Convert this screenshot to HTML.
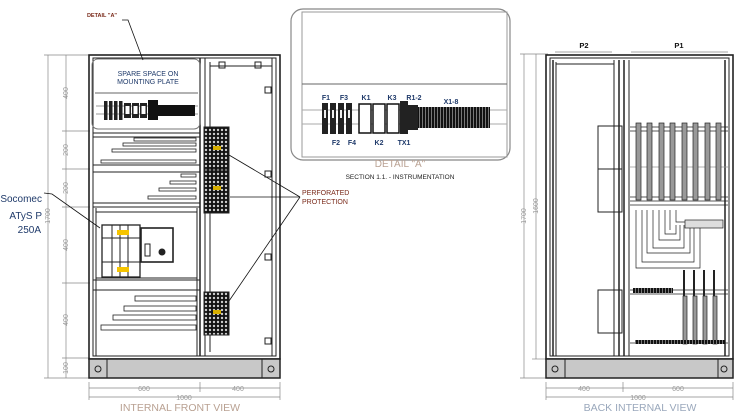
<!DOCTYPE html>
<html><head><meta charset="utf-8"><style>
html,body{margin:0;padding:0;background:#fff;width:743px;height:420px;overflow:hidden}
svg{display:block}
text{font-family:"Liberation Sans",sans-serif}
</style></head><body>
<svg width="743" height="420" viewBox="0 0 743 420" xmlns="http://www.w3.org/2000/svg">
<defs>
<pattern id="perf" width="4" height="4" patternUnits="userSpaceOnUse">
<rect width="4" height="4" fill="#111"/><circle cx="2" cy="2" r="1.2" fill="#ccc"/>
</pattern>
<pattern id="term" width="3" height="10" patternUnits="userSpaceOnUse">
<rect width="3" height="10" fill="#111"/><rect x="2" width="1" height="10" fill="#777"/>
</pattern>
</defs>

<!-- ============ FRONT VIEW ============ -->
<g fill="none" stroke="#222" stroke-width="1">
<g stroke="#888" stroke-width="0.7">
<line x1="48" y1="55" x2="48" y2="378"/><line x1="44" y1="55" x2="90" y2="55"/><line x1="44" y1="378" x2="90" y2="378"/>
<line x1="66" y1="55" x2="66" y2="378"/>
<line x1="62" y1="131" x2="90" y2="131"/><line x1="62" y1="169" x2="90" y2="169"/><line x1="62" y1="207" x2="90" y2="207"/><line x1="62" y1="283" x2="90" y2="283"/><line x1="62" y1="358" x2="90" y2="358"/>
<line x1="89" y1="382" x2="89" y2="400"/><line x1="200" y1="382" x2="200" y2="392"/><line x1="280" y1="382" x2="280" y2="400"/>
<line x1="89" y1="388" x2="280" y2="388"/><line x1="89" y1="397" x2="280" y2="397"/>
</g>
<rect x="89" y="55" width="191" height="304" stroke-width="1.6"/>
<rect x="93" y="58" width="183" height="298"/>
<line x1="200" y1="58" x2="200" y2="356" stroke-width="1.5"/>
<line x1="205" y1="58" x2="205" y2="356"/>
<line x1="210" y1="62" x2="210" y2="352"/>
<line x1="272" y1="58" x2="272" y2="356"/>
<rect x="89" y="359" width="191" height="19" fill="#c8c8c8" stroke-width="1.5"/>
<line x1="107" y1="359" x2="107" y2="378"/><line x1="262" y1="359" x2="262" y2="378"/>
<circle cx="98" cy="369" r="3"/><circle cx="271" cy="369" r="3"/>
<rect x="92" y="59" width="108" height="70" rx="6" stroke="#777"/>
<line x1="95" y1="93" x2="198" y2="93" stroke="#666"/>
<line x1="96" y1="106" x2="198" y2="106" stroke="#999"/><line x1="96" y1="114" x2="198" y2="114" stroke="#999"/>
</g>
<g stroke="none">
<rect x="104" y="101" width="3.5" height="19" fill="#222"/><rect x="109" y="101" width="3.5" height="19" fill="#222"/><rect x="114" y="101" width="3.5" height="19" fill="#222"/><rect x="119" y="101" width="3.5" height="19" fill="#222"/>
<rect x="124" y="103" width="7" height="15" fill="#222"/><rect x="125.5" y="106" width="4" height="8" fill="#fff"/>
<rect x="132" y="103" width="7" height="15" fill="#222"/><rect x="133.5" y="106" width="4" height="8" fill="#fff"/>
<rect x="140" y="103" width="7" height="15" fill="#222"/><rect x="141.5" y="106" width="4" height="8" fill="#fff"/>
<rect x="148" y="100" width="10" height="20" fill="#111"/><rect x="158" y="105" width="37" height="11" fill="#111"/>
</g>
<g fill="none" stroke="#222" stroke-width="1">
<line x1="93" y1="133" x2="200" y2="133"/><line x1="93" y1="137" x2="200" y2="137"/>
<line x1="93" y1="165" x2="200" y2="165"/><line x1="93" y1="172" x2="200" y2="172"/>
<line x1="93" y1="203" x2="200" y2="203"/><line x1="93" y1="207" x2="200" y2="207"/>
<line x1="93" y1="280" x2="200" y2="280"/><line x1="93" y1="290" x2="200" y2="290"/>
<line x1="96" y1="208" x2="96" y2="356"/><line x1="197" y1="208" x2="197" y2="356"/>
<rect x="96" y="212" width="101" height="66"/>
<g stroke-width="0.8">
<rect x="134" y="138" width="62" height="3"/><rect x="123" y="143" width="73" height="3"/><rect x="112" y="149" width="84" height="3"/><rect x="101" y="160" width="95" height="3"/>
<rect x="181" y="174" width="15" height="3"/><rect x="170" y="181" width="26" height="3"/><rect x="159" y="188" width="37" height="3"/><rect x="148" y="196" width="48" height="3"/>
<rect x="135" y="296" width="61" height="5"/><rect x="124" y="306" width="72" height="5"/><rect x="113" y="315" width="83" height="5"/><rect x="101" y="325" width="95" height="5"/>
</g>
<rect x="102" y="225" width="38" height="52" stroke-width="1.3"/><line x1="102" y1="238" x2="140" y2="238"/><line x1="102" y1="262" x2="140" y2="262"/>
<line x1="112" y1="225" x2="112" y2="277"/><line x1="120" y1="225" x2="120" y2="277"/><line x1="128" y1="225" x2="128" y2="277"/>
<rect x="117" y="230" width="12" height="5" fill="#f5c400" stroke="none"/><rect x="117" y="267" width="12" height="5" fill="#f5c400" stroke="none"/>
<rect x="141" y="228" width="32" height="34" stroke-width="1.6"/><rect x="145" y="244" width="5" height="12"/><circle cx="162" cy="252" r="3" fill="#222"/>
<rect x="204" y="127" width="25" height="43" fill="url(#perf)"/><rect x="204" y="170" width="25" height="43" fill="url(#perf)"/><rect x="204" y="292" width="25" height="43" fill="url(#perf)"/>
<rect x="213" y="146" width="8" height="4" fill="#d8b000" stroke="none"/><rect x="213" y="186" width="8" height="4" fill="#d8b000" stroke="none"/><rect x="213" y="310" width="8" height="4" fill="#d8b000" stroke="none"/>
<rect x="265" y="87" width="6" height="6" fill="#fff"/><rect x="265" y="171" width="6" height="6" fill="#fff"/><rect x="265" y="254" width="6" height="6" fill="#fff"/><rect x="265" y="338" width="6" height="6" fill="#fff"/>
<rect x="219" y="62" width="6" height="6" fill="#fff"/><rect x="255" y="62" width="6" height="6" fill="#fff"/>
<line x1="210" y1="66" x2="272" y2="66"/>
<g stroke="#111" stroke-width="0.8">
<polyline points="122,20 128,20 143,60"/>
<polyline points="44,193 52,194 100,228"/>
<line x1="300" y1="197" x2="229" y2="155"/><line x1="300" y1="197" x2="230" y2="197"/><line x1="300" y1="197" x2="229" y2="301"/>
</g>
</g>
<g font-size="7" fill="#999" text-anchor="middle">
<text transform="translate(68,93) rotate(-90)">400</text>
<text transform="translate(68,150) rotate(-90)">200</text>
<text transform="translate(68,188) rotate(-90)">200</text>
<text transform="translate(68,245) rotate(-90)">400</text>
<text transform="translate(68,320) rotate(-90)">400</text>
<text transform="translate(68,368) rotate(-90)">100</text>
<text transform="translate(50,216) rotate(-90)">1700</text>
<text x="144" y="391">600</text><text x="238" y="391">400</text><text x="184" y="400">1000</text>
</g>
<text x="180" y="411" font-size="10.5" fill="#b9a192" text-anchor="middle">INTERNAL FRONT VIEW</text>
<text x="102" y="17" font-size="5.5" fill="#7a2a1a" text-anchor="middle" font-weight="bold">DETAIL "A"</text>
<text x="148" y="76" font-size="7" fill="#1f3a6a" text-anchor="middle">SPARE SPACE  ON</text>
<text x="148" y="84" font-size="7" fill="#1f3a6a" text-anchor="middle">MOUNTING PLATE</text>
<text x="42" y="202" font-size="10" fill="#1f3a6a" text-anchor="end">Socomec</text>
<text x="42" y="219" font-size="10" fill="#1f3a6a" text-anchor="end">ATyS P</text>
<text x="41" y="233" font-size="10" fill="#1f3a6a" text-anchor="end">250A</text>
<text x="302" y="195" font-size="7" fill="#7a2a1a">PERFORATED</text>
<text x="302" y="204" font-size="7" fill="#7a2a1a">PROTECTION</text>

<!-- ============ DETAIL A ============ -->
<g fill="none" stroke="#555">
<rect x="291" y="9" width="219" height="151" rx="12" stroke="#888" stroke-width="1.2"/>
<rect x="302" y="12" width="205" height="145" stroke="#999"/>
<line x1="302" y1="84" x2="507" y2="84" stroke="#666"/>
<line x1="302" y1="110" x2="507" y2="110" stroke="#aaa"/><line x1="302" y1="124" x2="507" y2="124" stroke="#aaa"/>
</g>
<g fill="#222">
<rect x="322" y="103" width="6" height="31"/><rect x="330" y="103" width="6" height="31"/><rect x="338" y="103" width="6" height="31"/><rect x="346" y="103" width="6" height="31"/>
<rect x="324" y="110" width="2" height="8" fill="#eee"/><rect x="332" y="110" width="2" height="8" fill="#eee"/><rect x="340" y="110" width="2" height="8" fill="#eee"/><rect x="348" y="110" width="2" height="8" fill="#eee"/>
<rect x="359" y="104" width="12" height="29" fill="#fff" stroke="#111" stroke-width="1.5"/>
<rect x="373" y="104" width="12" height="29" fill="#fff" stroke="#111" stroke-width="1.5"/>
<rect x="387" y="104" width="12" height="29" fill="#fff" stroke="#111" stroke-width="1.5"/>
<rect x="400" y="101" width="8" height="33"/><rect x="408" y="105" width="10" height="25"/>
<rect x="418" y="107" width="72" height="21" fill="url(#term)"/>
</g>
<g font-size="7" fill="#1f3a6a" font-weight="bold" text-anchor="middle">
<text x="326" y="100">F1</text><text x="344" y="100">F3</text><text x="366" y="100">K1</text><text x="392" y="100">K3</text><text x="414" y="100">R1-2</text><text x="451" y="104">X1-8</text>
<text x="336" y="145">F2</text><text x="352" y="145">F4</text><text x="379" y="145">K2</text><text x="404" y="145">TX1</text>
</g>
<text x="400" y="167" font-size="10" fill="#b9a192" text-anchor="middle">DETAIL "A"</text>
<text x="400" y="179" font-size="6.5" fill="#222" text-anchor="middle">SECTION 1.1. - INSTRUMENTATION</text>

<!-- ============ BACK VIEW ============ -->
<g fill="none" stroke="#222" stroke-width="1">
<g stroke="#888" stroke-width="0.7">
<line x1="524" y1="54" x2="524" y2="378"/><line x1="520" y1="54" x2="548" y2="54"/><line x1="520" y1="378" x2="548" y2="378"/>
<line x1="536" y1="54" x2="536" y2="359"/><line x1="532" y1="359" x2="548" y2="359"/>
<line x1="555" y1="52" x2="612" y2="52"/><line x1="631" y1="52" x2="728" y2="52"/>
<line x1="546" y1="382" x2="546" y2="400"/><line x1="623" y1="382" x2="623" y2="392"/><line x1="733" y1="382" x2="733" y2="400"/>
<line x1="546" y1="388" x2="733" y2="388"/><line x1="546" y1="397" x2="733" y2="397"/>
</g>
<rect x="546" y="55" width="187" height="304" stroke-width="1.6"/>
<rect x="550" y="58" width="179" height="298"/>
<line x1="553" y1="60" x2="553" y2="356" stroke-width="1.5"/>
<line x1="556" y1="62" x2="556" y2="356"/>
<line x1="614" y1="60" x2="614" y2="356"/>
<line x1="619" y1="60" x2="619" y2="356" stroke-width="1.5"/>
<line x1="624" y1="60" x2="624" y2="356" stroke-width="1.5"/>
<line x1="629" y1="60" x2="629" y2="356"/>
<line x1="725" y1="60" x2="725" y2="356" stroke-width="1.5"/>
<line x1="556" y1="64" x2="614" y2="64"/>
<rect x="546" y="359" width="187" height="19" fill="#c8c8c8" stroke-width="1.5"/>
<line x1="565" y1="359" x2="565" y2="378"/><line x1="718" y1="359" x2="718" y2="378"/>
<circle cx="555" cy="369" r="3"/><circle cx="724" cy="369" r="3"/>
<rect x="598" y="126" width="24" height="43"/><rect x="598" y="169" width="24" height="43"/><rect x="598" y="290" width="24" height="43"/>
<g stroke-width="0.7">
<line x1="630" y1="127" x2="728" y2="127"/><line x1="630" y1="131" x2="728" y2="131"/>
<line x1="630" y1="167" x2="728" y2="167" stroke="#999"/>
<line x1="630" y1="197" x2="728" y2="197"/><line x1="630" y1="201" x2="728" y2="201"/><line x1="630" y1="205" x2="728" y2="205"/>
<line x1="630" y1="290" x2="728" y2="290"/><line x1="630" y1="294" x2="728" y2="294"/>
<line x1="630" y1="343" x2="728" y2="343"/>
<rect x="636" y="123" width="5" height="77" fill="#999"/><rect x="647" y="123" width="5" height="77" fill="#999"/><rect x="659" y="123" width="5" height="77" fill="#999"/><rect x="670" y="123" width="5" height="77" fill="#999"/>
<rect x="682" y="123" width="5" height="77" fill="#999"/><rect x="693" y="123" width="5" height="77" fill="#999"/><rect x="705" y="123" width="5" height="77" fill="#999"/><rect x="716" y="123" width="5" height="77" fill="#999"/>
<path d="M636 210 V268 H700 V225"/><path d="M642 210 V262 H694 V225"/>
<path d="M647 210 V253 H690 V225"/><path d="M653 210 V248 H684 V225"/>
<path d="M659 210 V240 H680 V225"/><path d="M665 210 V234 H676 V225"/>
<path d="M670 210 V230"/><path d="M676 210 V222 H720"/>
<rect x="685" y="220" width="38" height="8" fill="#ddd"/>
<rect x="683" y="296" width="4" height="48" fill="#999"/><rect x="693" y="296" width="4" height="48" fill="#999"/><rect x="703" y="296" width="4" height="48" fill="#999"/><rect x="713" y="296" width="4" height="48" fill="#999"/>
<path d="M684 270 L684 296 M694 270 L694 296 M704 270 L704 296 M714 270 L714 296" stroke-width="2"/>
<rect x="633" y="288" width="40" height="5" fill="url(#term)" stroke="none"/>
<rect x="635" y="340" width="90" height="4" fill="url(#term)" stroke="none"/>
</g>
</g>
<g font-size="7" fill="#999" text-anchor="middle">
<text transform="translate(526,216) rotate(-90)">1700</text>
<text transform="translate(538,206) rotate(-90)">1600</text>
<text x="584" y="391">400</text><text x="678" y="391">600</text><text x="638" y="400">1000</text>
</g>
<text x="584" y="48" font-size="7.5" fill="#111" text-anchor="middle" font-weight="bold">P2</text>
<text x="679" y="48" font-size="7.5" fill="#111" text-anchor="middle" font-weight="bold">P1</text>
<text x="640" y="411" font-size="10.5" fill="#9aa8bc" text-anchor="middle">BACK INTERNAL VIEW</text>
</svg>
</body></html>
